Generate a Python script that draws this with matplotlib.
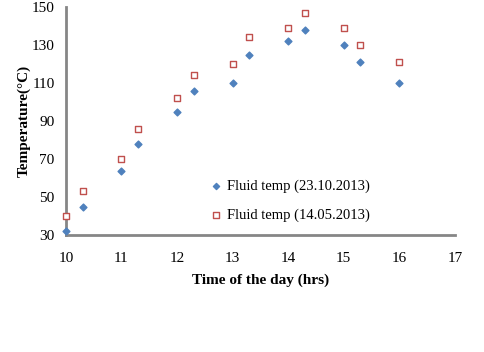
import matplotlib
matplotlib.use("Agg")
import matplotlib.pyplot as plt

# time of day (hrs)
hours = [10, 10.3, 11, 11.3, 12, 12.3, 13, 13.3, 14, 14.3, 15, 15.3, 16]
temp_oct = [32, 45, 64, 78, 95, 106, 110, 125, 132, 138, 130, 121, 110]
temp_may = [40, 53, 70, 86, 102, 114, 120, 134, 139, 147, 139, 130, 121]

plt.rcParams["font.family"] = ["Liberation Serif", "DejaVu Serif"]

fig = plt.figure(figsize=(4.84, 3.52), dpi=100)
ax = fig.add_axes([0.136, 0.332, 0.804, 0.648])

ax.scatter(hours, temp_oct, marker="D", s=12, color="#4F81BD",
           label="Fluid temp (23.10.2013)", zorder=3, clip_on=False)
ax.scatter(hours, temp_may, marker="s", s=18, facecolors="white",
           edgecolors="#C0504D", linewidths=1.0,
           label="Fluid temp (14.05.2013)", zorder=3, clip_on=False)

ax.set_xlim(10, 17)
ax.set_ylim(30, 150)
ax.set_xticks(range(10, 18))
ax.set_yticks(range(30, 151, 20))
ax.tick_params(axis="y", length=0, labelsize=11, pad=8)
ax.tick_params(axis="x", length=0, labelsize=11, pad=12)

for side in ("top", "right"):
    ax.spines[side].set_visible(False)
for side in ("left", "bottom"):
    ax.spines[side].set_color("#868686")
    ax.spines[side].set_linewidth(2)

ax.set_xlabel("Time of the day (hrs)", fontsize=11, fontweight="bold", labelpad=6)
ax.set_ylabel("Temperature(°C)", fontsize=11, fontweight="bold", labelpad=1)

ax.legend(loc="lower left", bbox_to_anchor=(0.357, 0.03), frameon=False,
          fontsize=10.5, handlelength=0.8, handletextpad=0.3,
          labelspacing=1.1, markerscale=0.9, borderaxespad=0)

fig.savefig("out.png", dpi=100)
